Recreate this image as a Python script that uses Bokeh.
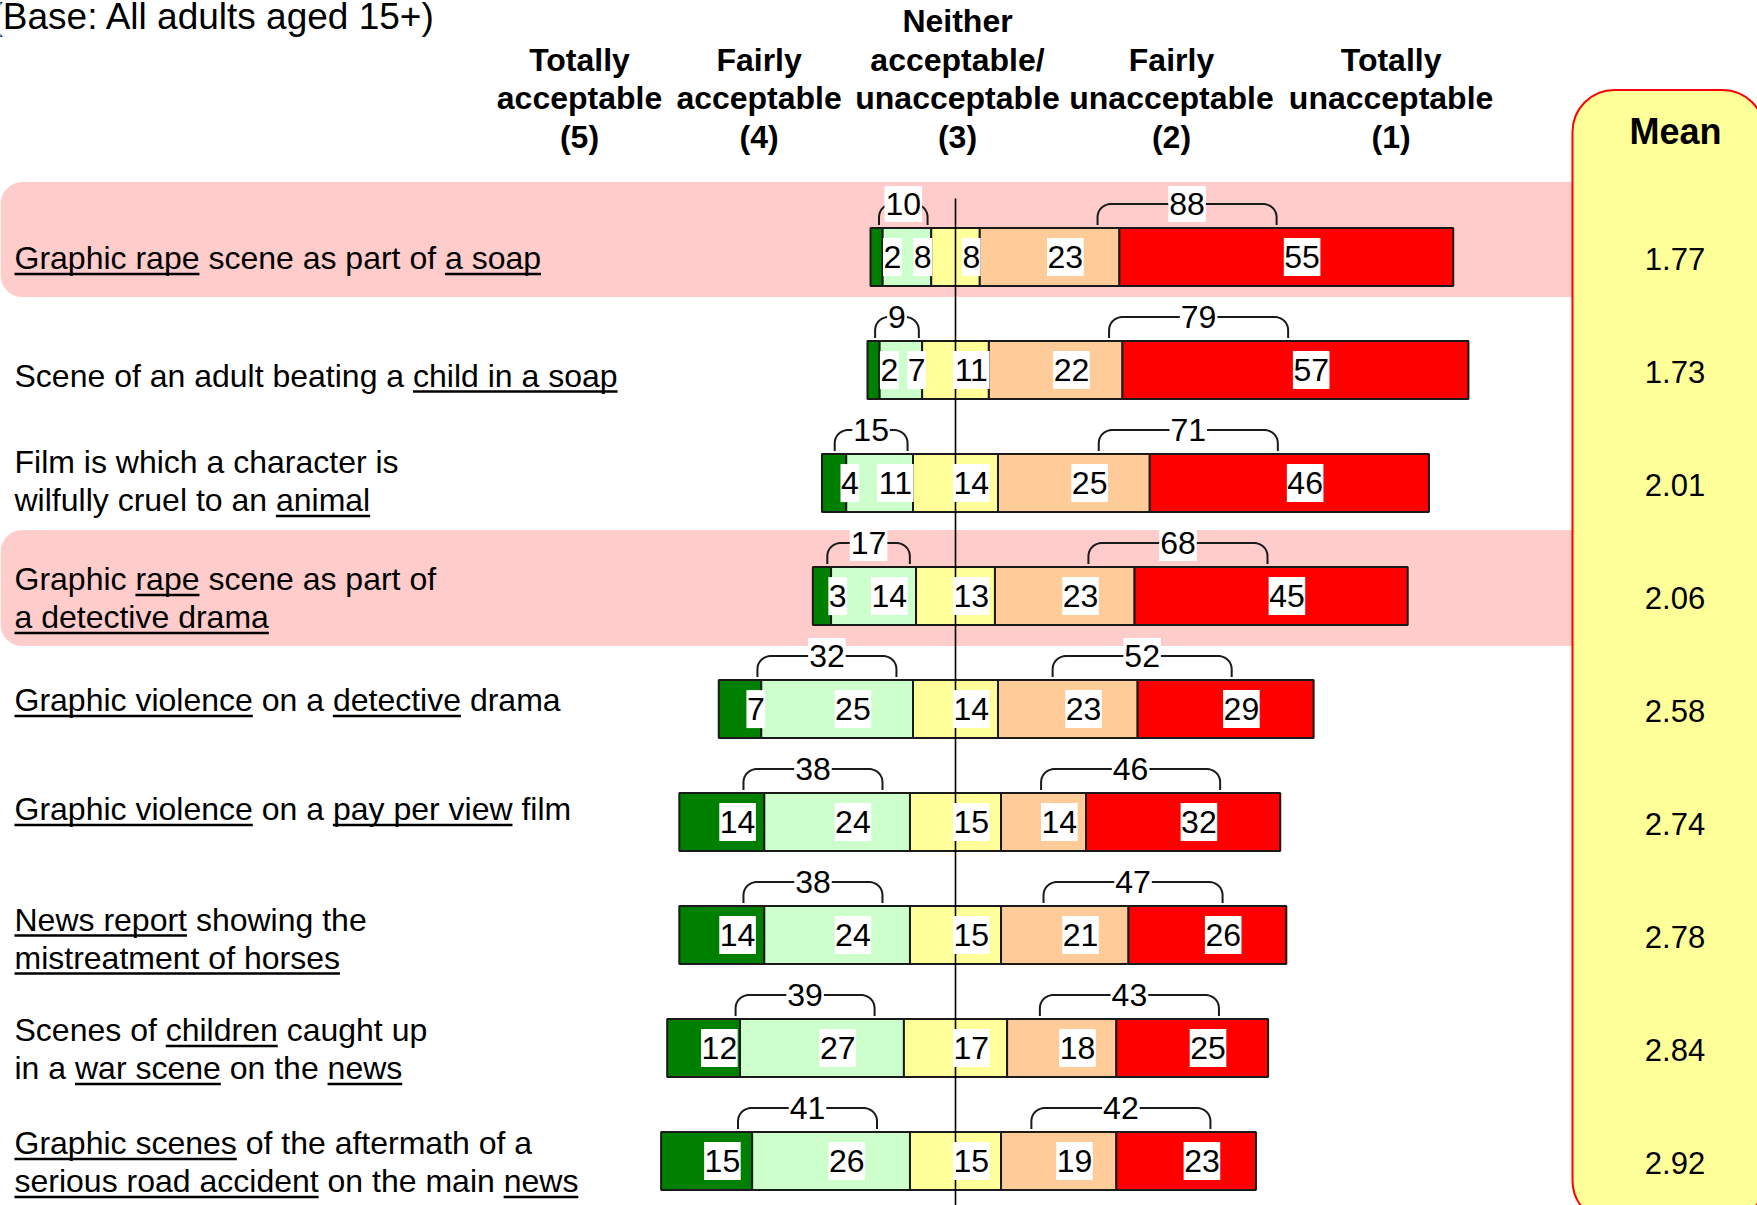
import math
from bokeh.plotting import figure
from bokeh.models import Range1d, BoxAnnotation
from bokeh.core.properties import value
from bokeh.embed import file_html
from bokeh.resources import INLINE

# ---------------- data ----------------
items = [
    "_Graphic rape_ scene as part of _a soap_",
    "Scene of an adult beating a _child in a soap_",
    "Film is which a character is\nwilfully cruel to an _animal_",
    "Graphic _rape_ scene as part of\n_a detective drama_",
    "_Graphic violence_ on a _detective_ drama",
    "_Graphic violence_ on a _pay per view_ film",
    "_News report_ showing the\n_mistreatment of horses_",
    "Scenes of _children_ caught up\nin a _war scene_ on the _news_",
    "_Graphic scenes_ of the aftermath of a\n_serious road accident_ on the main _news_",
]
totally_acceptable = [2, 2, 4, 3, 7, 14, 14, 12, 15]
fairly_acceptable = [8, 7, 11, 14, 25, 24, 24, 27, 26]
neither = [8, 11, 14, 13, 14, 15, 15, 17, 15]
fairly_unacceptable = [23, 22, 25, 23, 23, 14, 21, 18, 19]
totally_unacceptable = [55, 57, 46, 45, 29, 32, 26, 25, 23]
acceptable_net = [10, 9, 15, 17, 32, 38, 38, 39, 41]
unacceptable_net = [88, 79, 71, 68, 52, 46, 47, 43, 42]
means = [1.77, 1.73, 2.01, 2.06, 2.58, 2.74, 2.78, 2.84, 2.92]
headers = ["Totally\nacceptable\n(5)", "Fairly\nacceptable\n(4)",
           "Neither\nacceptable/\nunacceptable\n(3)", "Fairly\nunacceptable\n(2)",
           "Totally\nunacceptable\n(1)"]
highlighted_rows = [0, 3]
base_note = "(Base: All adults aged 15+)"
mean_title = "Mean"

# ---------------- layout / style ----------------
FONT = value("Liberation Sans")
COLORS = ["#008000", "#CCFFCC", "#FFFF99", "#FFCC99", "#FF0000"]
W_PX, H_PX = 1757, 1205
CX, S = 955.0, 6.07          # px of neutral centre, px per percent
Y0, DY = 256.6, 113.0        # px of first row centre, px per row
BAR_PX = 58
LABEL_NUDGE = [1, 5.5, -2, 2, -9, -13, 3.5, 1, 1]
BAND_OFFSETS = [(-75, 40), (-66, 50)]
HEADER_X = [579, 758.6, 957, 1171, 1390.6]
SHIFT = 0.36                 # alphabetic-baseline correction (em)

CW = {' ': 278, '(': 333, ')': 333, '+': 584, ':': 278, '.': 278, '/': 278,
      'A': 667, 'B': 667, 'C': 722, 'D': 722, 'E': 667, 'F': 611, 'G': 778, 'H': 722,
      'I': 278, 'J': 500, 'K': 667, 'L': 556, 'M': 833, 'N': 722, 'O': 778, 'P': 667,
      'Q': 778, 'R': 722, 'S': 667, 'T': 611, 'U': 722, 'V': 667, 'W': 944, 'X': 667,
      'Y': 667, 'Z': 611, 'a': 556, 'b': 556, 'c': 500, 'd': 556, 'e': 556, 'f': 278,
      'g': 556, 'h': 556, 'i': 222, 'j': 222, 'k': 500, 'l': 222, 'm': 833, 'n': 556,
      'o': 556, 'p': 556, 'q': 556, 'r': 333, 's': 500, 't': 278, 'u': 556, 'v': 500,
      'w': 722, 'x': 500, 'y': 500, 'z': 500}


def tw(s, size):
    return sum(CW.get(c, 556) for c in s) * size / 1000.0


def fx(px):
    return (px - CX) / S


def fy(py):
    return (py - Y0) / DY


def ty(baseline_px, size):
    return fy(baseline_px - SHIFT * size)


p = figure(width=W_PX, height=H_PX, x_range=Range1d(fx(0), fx(W_PX)),
           y_range=Range1d(fy(H_PX), fy(0)), x_axis_type=None, y_axis_type=None,
           output_backend="svg", toolbar_location=None, min_border=0,
           background_fill_color="white", border_fill_color="white")
p.outline_line_color = None
p.grid.visible = False

n = len(items)

# highlight bands
for r, (o_top, o_bot) in zip(highlighted_rows, BAND_OFFSETS):
    cy = Y0 + r * DY
    p.add_layout(BoxAnnotation(left=fx(0), right=fx(1630), top=fy(cy + o_top), bottom=fy(cy + o_bot),
                               fill_color="#FFCCCC", fill_alpha=1.0, line_color=None,
                               border_radius=22, level="underlay"))
# mean box
p.add_layout(BoxAnnotation(left=fx(1572), right=fx(1764), top=fy(89.5), bottom=fy(1222),
                           fill_color="#FFFF99", fill_alpha=1.0, line_color="#FF0000",
                           line_alpha=1.0, line_width=2, border_radius=42, level="underlay"))

# bars
seg_y, seg_l, seg_r, seg_c, seg_v = [], [], [], [], []
for i in range(n):
    vals = [totally_acceptable[i], fairly_acceptable[i], neither[i],
            fairly_unacceptable[i], totally_unacceptable[i]]
    x = -(vals[0] + vals[1] + vals[2] / 2.0)
    for k, v in enumerate(vals):
        seg_y.append(i); seg_l.append(x); seg_r.append(x + v); seg_c.append(COLORS[k]); seg_v.append(v)
        x += v
p.hbar(y=seg_y, left=seg_l, right=seg_r, height=BAR_PX / DY, fill_color=seg_c,
       line_color="#1a1a1a", line_width=2)

# centre line
p.segment(x0=[0], y0=[fy(198)], x1=[0], y1=[fy(1215)], line_color="black", line_width=1.6)

# brackets
R = 13.0
b_xs, b_ys, bl_x, bl_y, bl_t = [], [], [], [], []
for i in range(n):
    cy = Y0 + i * DY
    a0 = -(totally_acceptable[i] + fairly_acceptable[i] + neither[i] / 2.0)
    a1 = -neither[i] / 2.0
    u0 = neither[i] / 2.0
    u1 = u0 + fairly_unacceptable[i] + totally_unacceptable[i]
    w = a1 - a0
    bw = min(22.9, 0.8 * w)
    lb = a1 - 0.3 * (w - bw)
    la = lb - bw
    w2 = u1 - u0
    bw2 = min(29.5, w2)
    ra = u0 + 0.4 * (w2 - bw2)
    rb = ra + bw2
    line_py = cy - BAR_PX / 2 - 24
    foot_py = cy - BAR_PX / 2 - 3
    for (xl, xr, t) in [(la, lb, acceptable_net[i]), (ra, rb, unacceptable_net[i])]:
        xs, ys = [xl], [fy(foot_py)]
        ccx, ccy = xl + R / S, line_py + R
        for j in range(0, 9):
            th = math.pi + j * (math.pi / 2) / 8
            xs.append(ccx + R * math.cos(th) / S); ys.append(fy(ccy + R * math.sin(th)))
        ccx = xr - R / S
        for j in range(0, 9):
            th = 1.5 * math.pi + j * (math.pi / 2) / 8
            xs.append(ccx + R * math.cos(th) / S); ys.append(fy(ccy + R * math.sin(th)))
        xs.append(xr); ys.append(fy(foot_py))
        b_xs.append(xs); b_ys.append(ys)
        bl_x.append((xl + xr) / 2); bl_y.append(line_py); bl_t.append(str(t))
p.multi_line(xs=b_xs, ys=b_ys, line_color="#1a1a1a", line_width=2)

# white boxes + numbers: brackets
p.rect(x=bl_x, y=[fy(v) for v in bl_y], width=[tw(t, 32) + 2 for t in bl_t], height=36,
       width_units="screen", height_units="screen", fill_color="white", line_color=None)
p.text(x=bl_x, y=[ty(v + 11.5, 32) for v in bl_y], text=bl_t, text_font=FONT,
       text_font_size=value("32px"), text_align="center", text_baseline="alphabetic",
       text_color="black")

# segment labels
lab_x = [(l + r) / 2 + 2.6 for l, r in zip(seg_l, seg_r)]
lab_t = [str(v) for v in seg_v]
p.rect(x=lab_x, y=seg_y, width=[tw(t, 32) + 1 for t in lab_t], height=38,
       width_units="screen", height_units="screen", fill_color="white", line_color=None)
p.text(x=lab_x, y=[ty(Y0 + yy * DY + 11.5, 32) for yy in seg_y], text=lab_t, text_font=FONT,
       text_font_size=value("32px"), text_align="center", text_baseline="alphabetic",
       text_color="black")

# row labels with underlines
t_x, t_y, t_t = [], [], []
u_x0, u_x1, u_y = [], [], []
LX = 14.0
for i, lab in enumerate(items):
    cy = Y0 + i * DY + LABEL_NUDGE[i]
    lines = lab.split("\n")
    if len(lines) == 1:
        bases = [cy + 11.5]
    else:
        bases = [cy - 7.5, cy + 30.5]
    for line, b in zip(lines, bases):
        parts = line.split("_")
        plain = "".join(parts)
        t_x.append(fx(LX)); t_y.append(ty(b, 32)); t_t.append(plain)
        pos = LX
        for k, part in enumerate(parts):
            wdt = tw(part, 32)
            if k % 2 == 1:
                u_x0.append(fx(pos)); u_x1.append(fx(pos + wdt)); u_y.append(fy(b + 4.5))
            pos += wdt
p.text(x=t_x, y=t_y, text=t_t, text_font=FONT, text_font_size=value("32px"),
       text_align="left", text_baseline="alphabetic", text_color="black")
p.segment(x0=u_x0, y0=u_y, x1=u_x1, y1=u_y, line_color="black", line_width=2.5)

# headers
h_x, h_y, h_t = [], [], []
for hx, h in zip(HEADER_X, headers):
    lines = h.split("\n")
    for j, line in enumerate(lines):
        h_x.append(fx(hx)); h_y.append(ty(148 - 38.5 * (len(lines) - 1 - j), 32)); h_t.append(line)
p.text(x=h_x, y=h_y, text=h_t, text_font=FONT, text_font_size=value("32px"),
       text_font_style="bold", text_align="center", text_baseline="alphabetic", text_color="black")

# base note
p.text(x=[fx(-10)], y=[ty(29.5, 37)], text=[base_note], text_font=FONT,
       text_font_size=value("37px"), text_align="left", text_baseline="alphabetic",
       text_color="black")

# mean column
p.text(x=[fx(1675)], y=[ty(144, 36)], text=[mean_title], text_font=FONT,
       text_font_size=value("36px"), text_font_style="bold", text_align="center",
       text_baseline="alphabetic", text_color="black")
p.text(x=[fx(1674.5)] * n, y=[ty(Y0 + i * DY + 13.5, 31) for i in range(n)],
       text=["%.2f" % m for m in means], text_font=FONT, text_font_size=value("31px"),
       text_align="center", text_baseline="alphabetic", text_color="black")

open("out.html", "w").write(file_html(p, INLINE))
